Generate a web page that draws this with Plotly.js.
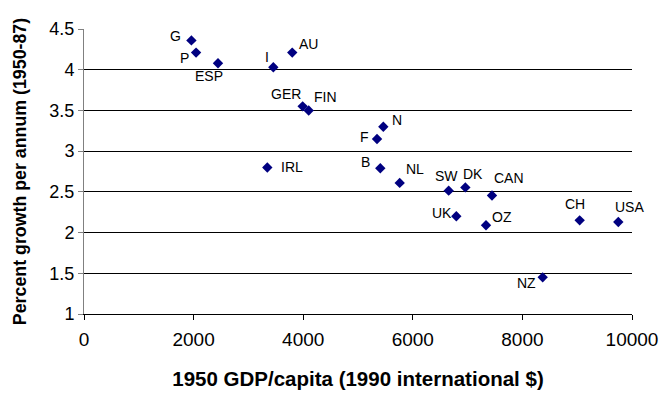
<!DOCTYPE html>
<html>
<head>
<meta charset="utf-8">
<script src="https://cdn.plot.ly/plotly-3.0.1.min.js"></script>
<style>html,body{margin:0;padding:0;background:#fff;}#chart{width:659px;height:401px;}</style>
</head>
<body>
<div id="chart"></div>
<script>
// Data
var countries = ["G","P","ESP","I","AU","GER","FIN","IRL","F","N","B","NL","SW","DK","CAN","UK","OZ","NZ","CH","USA"];
var gdp1950 = [1960,2045,2445,3455,3800,3990,4100,3345,5347,5462,5407,5761,6655,6959,7445,6794,7336,8370,9045,9750];
var growth = [4.36,4.21,4.08,4.03,4.21,3.55,3.50,2.80,3.15,3.30,2.79,2.61,2.515,2.555,2.455,2.20,2.09,1.45,2.15,2.13];
// label offsets in pixels (right, up)
var labelDx = [-16,-12,-9,-6,16,-17,17,25,-13,14,-15,15,-2,8,17,-14,16,-16,-5,11];
var labelDy = [4,-5,-13,10,9,12,13,0,2,7,6,14,15,13,18,3,8,-6,16,15];

var font = "'Liberation Sans', Arial, sans-serif";

var trace = {
  x: gdp1950,
  y: growth,
  mode: "markers",
  type: "scatter",
  marker: {symbol: "diamond", size: 8, color: "#000080"},
  hoverinfo: "skip"
};

var annotations = countries.map(function(c, i) {
  return {
    x: gdp1950[i], y: growth[i], text: c, showarrow: false,
    xanchor: "center", yanchor: "middle",
    xshift: labelDx[i], yshift: labelDy[i],
    font: {family: font, size: 14, color: "#000"}
  };
});

var layout = {
  width: 659, height: 401,
  margin: {l: 84, r: 27, t: 29, b: 87},
  paper_bgcolor: "#fff", plot_bgcolor: "#fff",
  showlegend: false,
  font: {family: font, color: "#000"},
  xaxis: {
    range: [0, 10000], dtick: 2000, tick0: 0,
    showgrid: false, zeroline: false,
    showline: true, linecolor: "#000", linewidth: 1,
    ticks: "outside", ticklen: 5, tickcolor: "#000",
    ticklabelstandoff: 3,
    tickformat: "d",
    tickfont: {family: font, size: 19, color: "#000"},
    title: {text: "<b>1950 GDP/capita (1990 international $)</b>", font: {family: font, size: 20.5, color: "#000"}, standoff: 22}
  },
  yaxis: {
    range: [1, 4.5], dtick: 0.5, tick0: 1,
    showgrid: true, gridcolor: "#000", gridwidth: 1,
    zeroline: false,
    showline: true, linecolor: "#808080", linewidth: 1,
    ticks: "outside", ticklen: 5, tickcolor: "#808080",
    tickfont: {family: font, size: 18, color: "#000"},
    title: {text: "<b>Percent growth per annum (1950-87)</b>", font: {family: font, size: 17.8, color: "#000"}, standoff: 18}
  },
  annotations: annotations
};

Plotly.newPlot("chart", [trace], layout, {displayModeBar: false, staticPlot: true});
</script>
</body>
</html>
